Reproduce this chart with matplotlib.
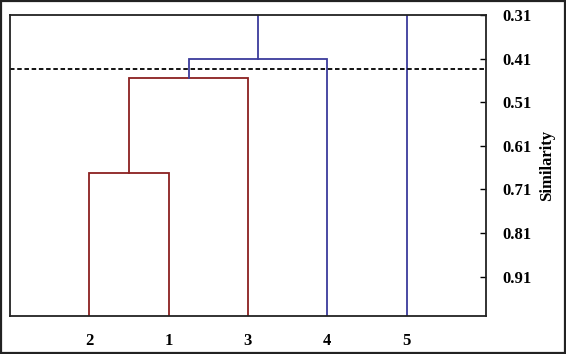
import matplotlib.pyplot as plt
from matplotlib.patches import Rectangle

plt.rcParams['font.family'] = ['Liberation Serif', 'DejaVu Serif']

# leaves in plotted order
leaf_labels = ['2', '1', '3', '4', '5']
leaf_pos = [1, 2, 3, 4, 5]

# merge heights (similarity)
h_21 = 0.673
h_213 = 0.455
h_2134 = 0.411
h_all = 0.25
cut_level = 0.433

yticks = [0.31, 0.41, 0.51, 0.61, 0.71, 0.81, 0.91]

red = '#8b2020'
blue = '#3c3c9c'

fig = plt.figure(figsize=(5.66, 3.54), dpi=100)
ax = fig.add_axes([10 / 566, 1 - 316 / 354, 476 / 566, 301 / 354])


def link(x1, y1, x2, y2, h, c):
    ax.plot([x1, x1, x2, x2], [y1, h, h, y2], color=c, lw=1.3, solid_joinstyle='miter')


base = 1.0
x21 = (leaf_pos[0] + leaf_pos[1]) / 2
link(leaf_pos[0], base, leaf_pos[1], base, h_21, red)
x213 = (x21 + leaf_pos[2]) / 2
link(x21, h_21, leaf_pos[2], base, h_213, red)
x2134 = (x213 + leaf_pos[3]) / 2
link(x213, h_213, leaf_pos[3], base, h_2134, blue)
link(x2134, h_2134, leaf_pos[4], base, h_all, blue)

ax.axhline(cut_level, color='black', lw=1.3, ls=(0, (2.5, 1.5)))

ax.set_xlim(0, 6)
ax.set_ylim(1.0, 0.31)
ax.set_xticks(leaf_pos)
ax.set_xticklabels(leaf_labels, fontsize=12, fontweight='bold')
ax.tick_params(axis='x', length=0, pad=12)
ax.yaxis.tick_right()
ax.yaxis.set_label_position('right')
ax.set_yticks(yticks)
ax.set_yticklabels([f'{v:.2f}' for v in yticks], fontsize=12, fontweight='bold')
ax.tick_params(axis='y', direction='in', length=4, width=1, pad=11.5)
ax.set_ylabel('Similarity', fontsize=12, fontweight='bold', labelpad=6)
for s in ax.spines.values():
    s.set_linewidth(1.3)
    s.set_color('#222222')

fig.patches.append(Rectangle((0.002, 0.003), 0.996, 0.994, transform=fig.transFigure,
                             fill=False, edgecolor='#222222', lw=1.6))

fig.savefig('out.png', dpi=100)
